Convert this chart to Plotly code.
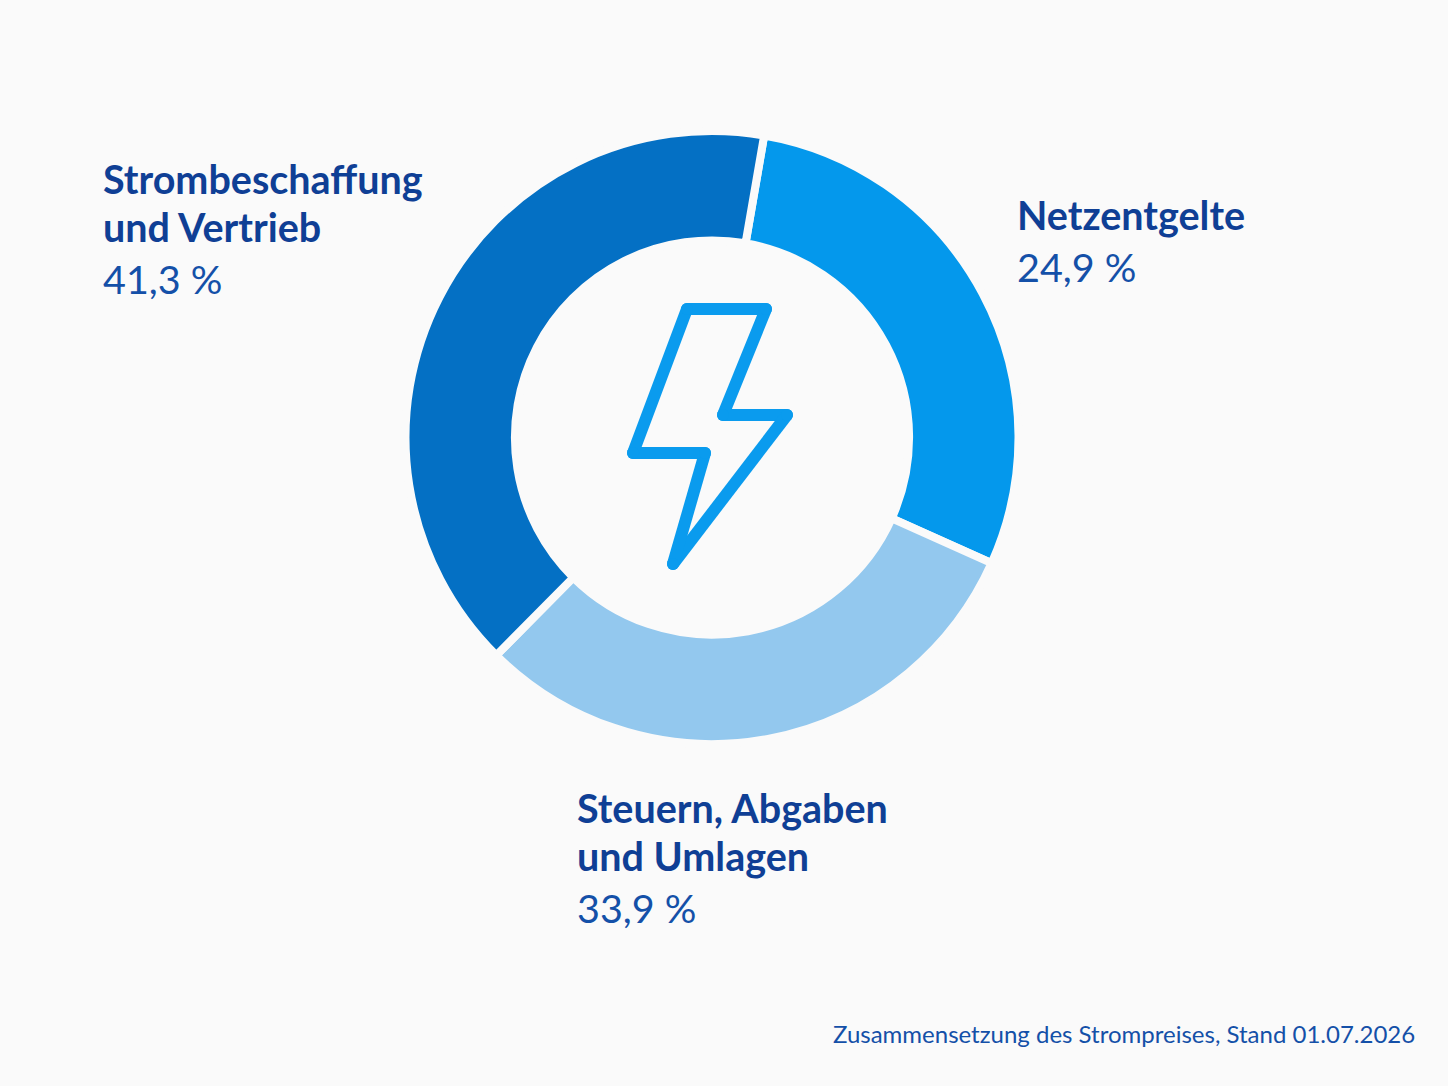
import plotly.graph_objects as go

labels = ["Netzentgelte", "Steuern, Abgaben und Umlagen", "Strombeschaffung und Vertrieb"]
printed_values = ["24,9 %", "33,9 %", "41,3 %"]
# Arc shares as drawn in the reference (its arcs are not proportional to the printed numbers)
arc_shares = [29.0, 30.7, 40.3]
colors = ["#0498EC", "#93C8EE", "#0470C4"]
bolt_x = [687, 766, 723, 787, 673, 705, 633]
bolt_y = [309, 309, 415, 415, 564, 453, 453]
NAVY = "#0F3F95"
BLUE = "#1450A8"
BG = "#FAFAFA"
FONT = "Lato"

W, H = 1448, 1086
CX, CY, R = 712, 437.5, 306.5
fig = go.Figure()
fig.add_trace(go.Pie(
    values=arc_shares, labels=labels, hole=0.643, sort=False, direction="clockwise",
    rotation=9.8, marker=dict(colors=colors, line=dict(color=BG, width=8)),
    textinfo="none", hoverinfo="label", showlegend=False,
    domain=dict(x=[(CX-R)/W, (CX+R)/W], y=[1-(CY+R)/H, 1-(CY-R)/H]),
))

def note(x, y, text, size, color, bold=False):
    fig.add_annotation(x=x, y=y, xref="x", yref="y", text=f"<b>{text}</b>" if bold else text,
                       showarrow=False, xanchor="left", yanchor="middle", align="left",
                       font=dict(family=FONT, size=size, color=color))

for x, y, t in [(101, 178, "Strombeschaffung"), (101, 226, "und Vertrieb"), (1015, 214, "Netzentgelte"),
                (575, 807, "Steuern, Abgaben"), (575, 855, "und Umlagen")]:
    note(x, y, t, 39.5, NAVY, True)
for x, y, t in zip([101, 1015, 575], [278, 266, 907], [printed_values[2], printed_values[0], printed_values[1]]):
    note(x, y, t, 39.5, BLUE)
fig.add_annotation(x=1417, y=1033, xref="x", yref="y", text="Zusammensetzung des Strompreises, Stand 01.07.2026",
                   showarrow=False, xanchor="right", yanchor="middle", font=dict(family=FONT, size=24, color=BLUE))

# Separate segments with round dots at the vertices give the icon its rounded corners
seg_x, seg_y = [], []
n = len(bolt_x)
for i in range(n):
    j = (i + 1) % n
    seg_x += [bolt_x[i], bolt_x[j], None]
    seg_y += [bolt_y[i], bolt_y[j], None]
fig.add_trace(go.Scatter(x=seg_x, y=seg_y, mode="lines+markers", hoverinfo="skip", connectgaps=False,
                         showlegend=False, line=dict(color="#0A9BEE", width=12),
                         marker=dict(color="#0A9BEE", size=12)))

fig.update_xaxes(range=[0, W], visible=False, fixedrange=True)
fig.update_yaxes(range=[H, 0], visible=False, fixedrange=True)
fig.update_layout(width=W, height=H, margin=dict(l=0, r=0, t=0, b=0), autosize=False,
                  paper_bgcolor=BG, plot_bgcolor="rgba(0,0,0,0)")
fig.write_html("out.html", config={"displayModeBar": False},
               post_script=f"document.body.style.margin='0';document.body.style.background='{BG}';")
